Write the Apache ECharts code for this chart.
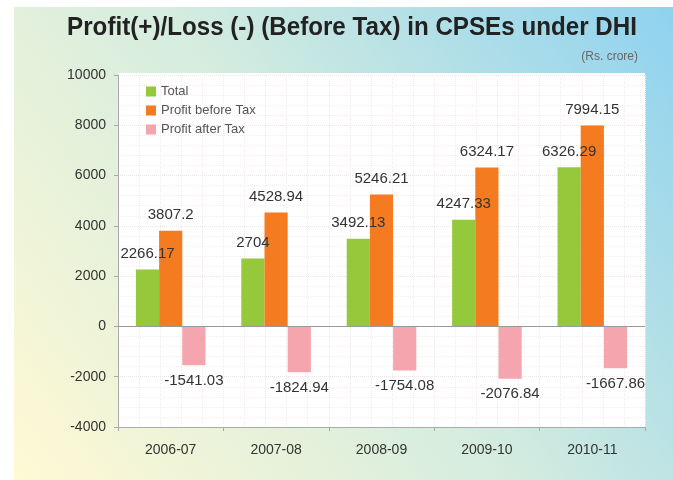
<!DOCTYPE html>
<html>
<head>
<meta charset="utf-8">
<script src="https://cdn.jsdelivr.net/npm/echarts@6/dist/echarts.min.js"></script>
<style>
  html, body { margin: 0; padding: 0; background: #fff; }
  #chart { width: 673px; height: 480px; }
</style>
</head>
<body>
<div id="chart"></div>
<script>
  // data (Rs. crore)
  var years = ['2006-07', '2007-08', '2008-09', '2009-10', '2010-11'];
  var total = [2266.17, 2704, 3492.13, 4247.33, 6326.29];
  var profitBeforeTax = [3807.2, 4528.94, 5246.21, 6324.17, 7994.15];
  var profitAfterTax = [-1541.03, -1824.94, -1754.08, -2076.84, -1667.86];

  var labelStyle = { show: true, fontSize: 15, color: '#333', fontFamily: 'Liberation Sans' };

  var myChart = echarts.init(document.getElementById('chart'));
  myChart.setOption({
    animation: false,
    textStyle: { fontFamily: 'Liberation Sans' },
    graphic: [
      {
        // gradient backdrop
        type: 'rect', z: -10,
        shape: { x: 14, y: 7, width: 659, height: 473 },
        style: {
          fill: new echarts.graphic.LinearGradient(0, 1, 1, 0, [
            { offset: 0, color: '#fff9d4' },
            { offset: 0.5, color: '#d4ecdf' },
            { offset: 1, color: '#8fd2ef' }
          ])
        }
      },
      {
        // white plot panel
        type: 'rect', z: -9,
        shape: { x: 118, y: 73, width: 527, height: 354 },
        style: { fill: '#fff' }
      },
      {
        // condensed bold title
        type: 'text', z: 10,
        x: 352, y: 28, scaleX: 0.93,
        style: {
          text: 'Profit(+)/Loss (-) (Before Tax) in CPSEs under DHI',
          font: 'bold 26px "Liberation Sans"',
          fill: '#222',
          align: 'center', verticalAlign: 'middle'
        }
      }
    ],
    title: {
      text: '(Rs. crore)',
      right: 30, top: 46,
      textStyle: { fontWeight: 'normal', fontSize: 12, color: '#666' }
    },
    legend: {
      orient: 'vertical',
      left: 141, top: 80,
      itemWidth: 10, itemHeight: 10, itemGap: 6,
      icon: 'rect',
      textStyle: { fontSize: 13, color: '#555' },
      data: ['Total', 'Profit before Tax', 'Profit after Tax']
    },
    grid: { left: 118, right: 28, top: 75, bottom: 53 },
    xAxis: [
      {
        type: 'category',
        data: years,
        axisLine: { onZero: false, lineStyle: { color: '#aaa' } },
        axisTick: { show: true, length: 4, lineStyle: { color: '#aaa' } },
        axisLabel: { fontSize: 14, color: '#333', margin: 16 },
        splitLine: { show: false }
      },
      {
        // hidden axis only for the fine vertical grid
        type: 'value', min: 0, max: 50, interval: 2,
        position: 'top',
        axisLine: { show: false }, axisTick: { show: false }, axisLabel: { show: false },
        splitLine: { show: true, lineStyle: { color: '#f2ecec', type: 'dotted' } }
      }
    ],
    yAxis: {
      type: 'value',
      min: -4000, max: 10000, interval: 2000,
      axisLine: { show: true, lineStyle: { color: '#aaa' } },
      axisTick: { show: true, length: 4, lineStyle: { color: '#aaa' } },
      axisLabel: { fontSize: 14, color: '#333', margin: 12, formatter: function (v) { return String(v); } },
      splitLine: { show: true, lineStyle: { color: '#eee6e6', type: 'dotted' } },
      minorTick: { show: false, splitNumber: 5 },
      minorSplitLine: { show: true, lineStyle: { color: '#f4eeee', type: 'dotted' } }
    },
    series: [
      {
        name: 'Total', type: 'bar',
        data: total,
        barGap: '0%', barCategoryGap: '34%',
        itemStyle: { color: '#95c83a' },
        label: Object.assign({ position: 'top', distance: 8 }, labelStyle),
        markLine: {
          silent: true, symbol: 'none', label: { show: false },
          lineStyle: { color: '#999', type: 'solid', width: 1 },
          data: [{ yAxis: 0 }]
        }
      },
      {
        name: 'Profit before Tax', type: 'bar',
        data: profitBeforeTax,
        itemStyle: { color: '#f47b20' },
        label: Object.assign({ position: 'top', distance: 8 }, labelStyle)
      },
      {
        name: 'Profit after Tax', type: 'bar',
        data: profitAfterTax,
        itemStyle: { color: '#f5a5ad' },
        label: Object.assign({ position: 'bottom', distance: 8 }, labelStyle)
      }
    ]
  });
</script>
</body>
</html>
